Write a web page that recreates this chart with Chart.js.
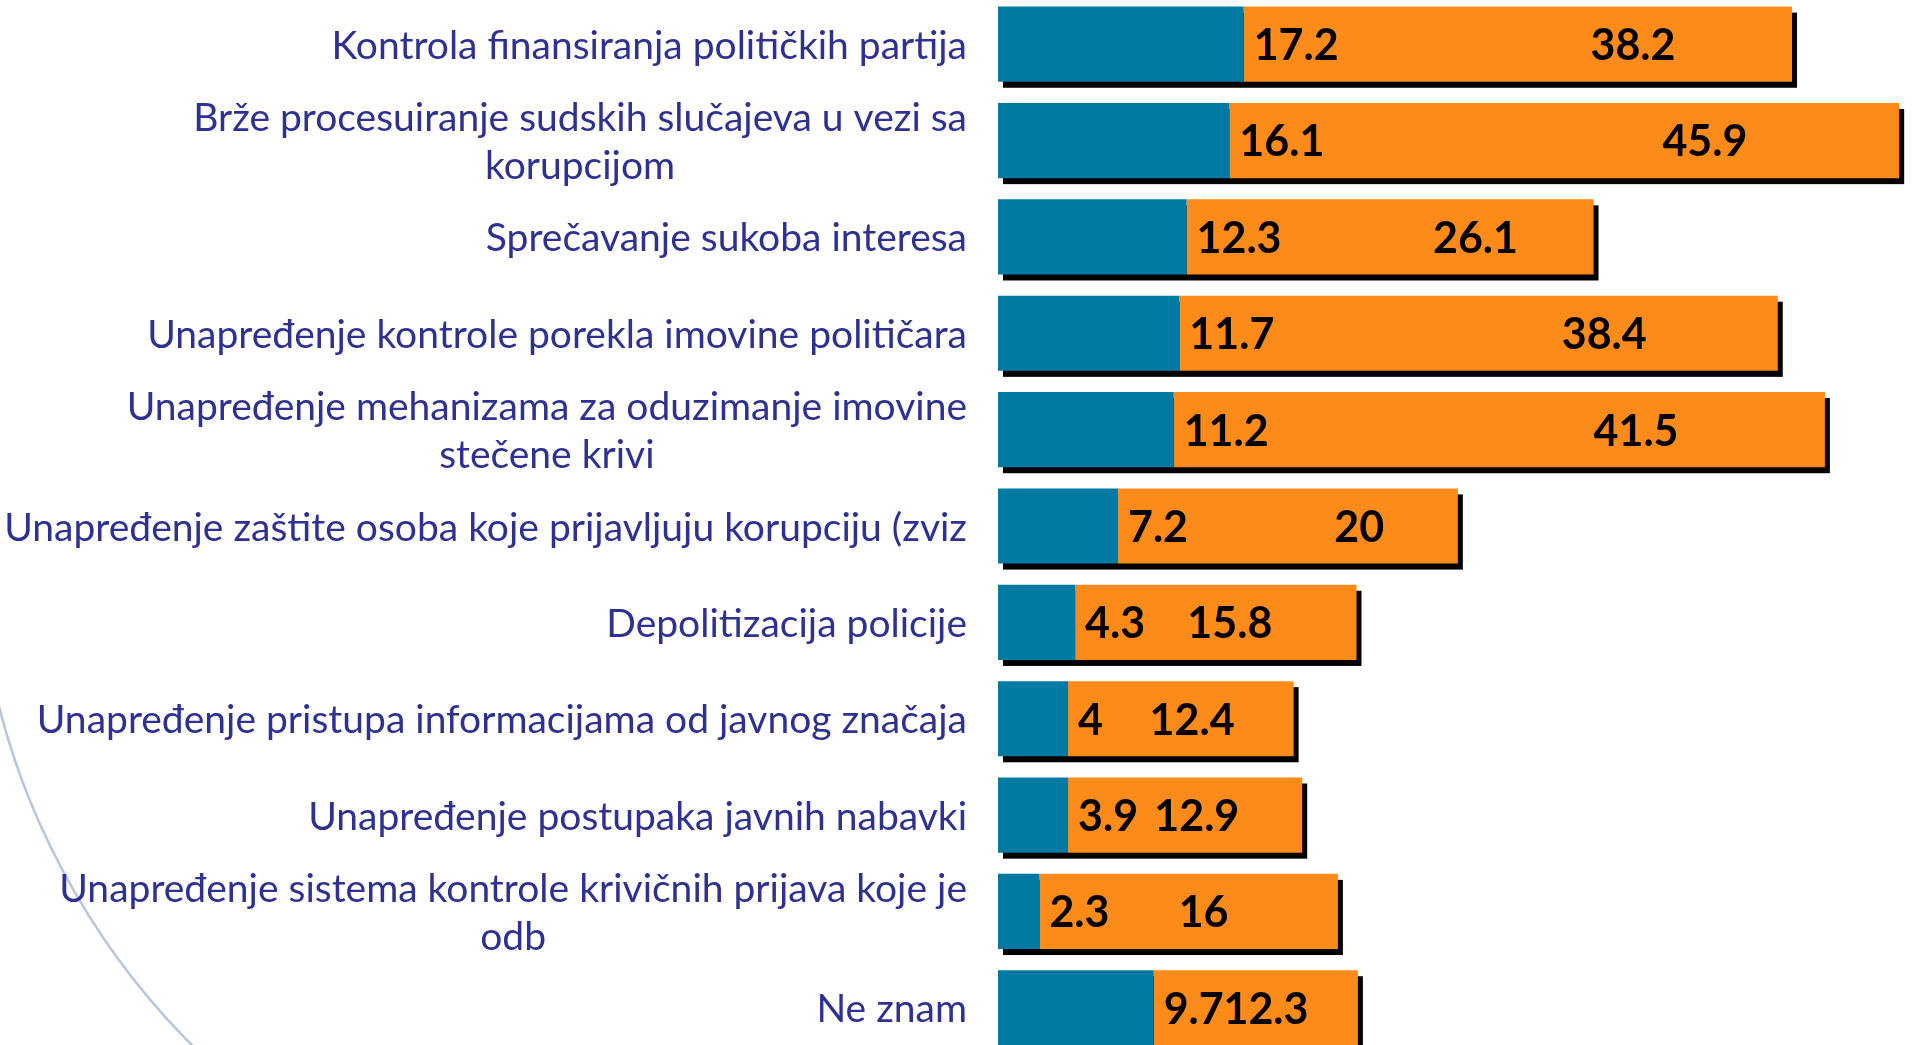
<!DOCTYPE html>
<html>
<head>
<meta charset="utf-8">
<script src="https://cdn.jsdelivr.net/npm/chart.js@4/dist/chart.umd.min.js"></script>
<style>
  html, body { margin: 0; padding: 0; background: #ffffff; overflow: hidden; width: 1912px; height: 1045px; }
  #wrap { position: absolute; left: 0; top: -4px; width: 1912px; height: 1060px; }
</style>
</head>
<body>
<div id="wrap"><canvas id="c" width="1912" height="1060"></canvas></div>
<script>
// ---- data ----
const categories = [
  ["Kontrola finansiranja političkih partija"],
  ["Brže procesuiranje sudskih slučajeva u vezi sa", "korupcijom"],
  ["Sprečavanje sukoba interesa"],
  ["Unapređenje kontrole porekla imovine političara"],
  ["Unapređenje mehanizama za oduzimanje imovine", "stečene krivi"],
  ["Unapređenje zaštite osoba koje prijavljuju korupciju (zviz"],
  ["Depolitizacija policije"],
  ["Unapređenje pristupa informacijama od javnog značaja"],
  ["Unapređenje postupaka javnih nabavki"],
  ["Unapređenje sistema kontrole krivičnih prijava koje je", "odb"],
  ["Ne znam"]
];
// bar lengths as drawn in the picture
const blueValues   = [17.2, 16.2, 13.2, 12.7, 12.3, 8.4, 5.4, 4.9, 4.9, 2.9, 10.9];
const orangeValues = [38.4, 46.9, 28.5, 41.9, 45.6, 23.8, 19.7, 15.8, 16.4, 20.9, 14.3];
// numbers printed on the bars
const blueLabels   = ["17.2", "16.1", "12.3", "11.7", "11.2", "7.2", "4.3", "4", "3.9", "2.3", "9.7"];
const orangeLabels = ["38.2", "45.9", "26.1", "38.4", "41.5", "20", "15.8", "12.4", "12.9", "16", "12.3"];
const axisMax = 64;

const BLUE = '#0079A3';
const ORANGE = '#FD8B19';
const LABEL_COLOR = '#2E3192';

const decoArc = {
  id: 'decoArc',
  beforeDraw(chart) {
    const ctx = chart.ctx;
    ctx.save();
    ctx.strokeStyle = '#B9C6D8';
    ctx.lineWidth = 2.5;
    ctx.beginPath();
    ctx.arc(710.5, 529.3, 734, 125 * Math.PI / 180, 175 * Math.PI / 180);
    ctx.stroke();
    ctx.restore();
  }
};

const shadows = {
  id: 'shadows',
  beforeDatasetsDraw(chart) {
    const ctx = chart.ctx;
    const m0 = chart.getDatasetMeta(0), m1 = chart.getDatasetMeta(1);
    ctx.save();
    ctx.fillStyle = '#000000';
    m0.data.forEach((b, i) => {
      const o = m1.data[i];
      const left = b.base, right = o.x;
      const top = b.y - b.height / 2;
      ctx.fillRect(left + 5, top + 6, right - left, b.height);
    });
    ctx.restore();
  }
};

const textLayer = {
  id: 'textLayer',
  afterDatasetsDraw(chart) {
    const ctx = chart.ctx;
    const ys = chart.scales.y;
    const area = chart.chartArea;
    ctx.save();
    // category labels
    ctx.font = '39px Lato';
    ctx.fillStyle = LABEL_COLOR;
    ctx.textBaseline = 'middle';
    ctx.textAlign = 'center';
    const lh = 48;
    categories.forEach((lines, i) => {
      const y = ys.getPixelForTick(i) + 2;
      const maxW = Math.max(...lines.map(l => ctx.measureText(l).width));
      const right = area.left - 31;
      const cx = right - maxW / 2;
      const y0 = y - (lines.length - 1) * lh / 2;
      lines.forEach((l, k) => ctx.fillText(l, cx, y0 + k * lh));
    });
    // value labels
    const m0 = chart.getDatasetMeta(0), m1 = chart.getDatasetMeta(1);
    ctx.font = 'bold 43px Lato';
    ctx.fillStyle = '#000000';
    m0.data.forEach((b, i) => {
      const o = m1.data[i];
      const blueEnd = b.x;
      const orangeW = o.x - blueEnd;
      const frac = orangeW >= 330 ? 0.71 : 0.55;
      ctx.textAlign = 'left';
      ctx.fillText(blueLabels[i], blueEnd + 10, b.y + 2);
      ctx.textAlign = 'center';
      ctx.fillText(orangeLabels[i], blueEnd + frac * orangeW, o.y + 2);
    });
    ctx.restore();
  }
};

new Chart(document.getElementById('c'), {
  type: 'bar',
  data: {
    labels: categories,
    datasets: [
      { label: 'Serija 1', data: blueValues, backgroundColor: BLUE, borderWidth: 0, barPercentage: 0.78, categoryPercentage: 1 },
      { label: 'Serija 2', data: orangeValues, backgroundColor: ORANGE, borderWidth: 0, barPercentage: 0.78, categoryPercentage: 1 }
    ]
  },
  options: {
    indexAxis: 'y',
    responsive: false,
    animation: false,
    devicePixelRatio: 1,
    layout: { padding: 0 },
    plugins: { legend: { display: false }, tooltip: { enabled: false } },
    scales: {
      x: { stacked: true, display: false, min: 0, max: axisMax },
      y: {
        stacked: true,
        grid: { display: false },
        border: { display: false },
        ticks: { display: false },
        afterFit(scale) { scale.width = 998; }
      }
    }
  },
  plugins: [decoArc, shadows, textLayer]
});
</script>
</body>
</html>
